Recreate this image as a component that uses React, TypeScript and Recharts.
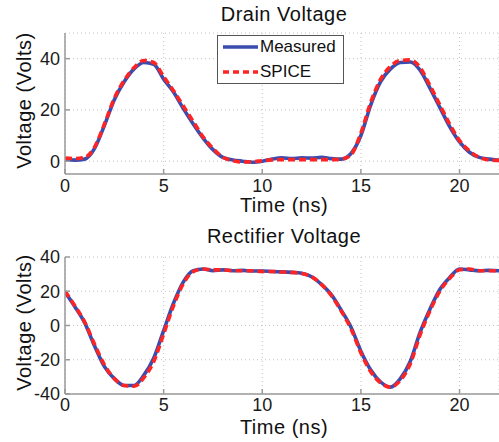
import React from 'react';
import { LineChart, Line, XAxis, YAxis, CartesianGrid, Legend, Customized } from 'recharts';

const timeNs = [0,0.5,1,1.5,2,2.5,3,3.5,4,4.5,5,5.5,6,6.5,7,7.5,8,8.5,9,9.5,10,10.5,11,11.5,12,12.5,13,13.5,14,14.5,15,15.5,16,16.5,17,17.5,18,18.5,19,19.5,20,20.5,21,21.5,22];

const drainMeasured = [0.8,0.4,0.8,5,14,24,31,36,38.5,37.8,32,27,20.5,14.5,9,4.5,1.5,0.5,0,-0.4,0,0.8,1.3,1.0,1.3,1.2,1.5,1.0,0.8,3,10,22,31,36,38.5,38.7,35.5,28.5,21,13.5,7.5,3.5,1.5,0.8,0.3];
const drainSpice = [1.2,1.0,1.5,5.5,14.5,24.5,31.5,36.5,39.3,38.5,33,27.5,21.5,15.5,9.5,5,1.5,0.2,-0.3,-0.2,0.2,0.5,0.6,0.6,0.6,0.6,0.6,0.6,0.8,2.5,11,23,32,37,39.3,39.5,36.5,29.5,22,14.5,8,4,1.5,0.5,0.3];

const rectMeasured = [19.5,11,1.5,-12,-24,-31,-35,-35,-29,-19,-3,13,25.5,32,33,32,32.5,32,32.2,31.8,31.8,31.5,31.3,31,30.5,28.5,24,18,9,-1,-15,-26,-33,-36,-31,-21,-4,9.5,21,28,33,32.5,32,32.2,32];
const rectSpice = [20,11.5,2,-11,-23,-31,-35,-35.5,-30.5,-21,-5,11.5,24.5,31.5,33,32.5,32.5,32,32,32,31.5,31.5,31.2,31,30.3,28.5,24,17.5,8.5,-2,-16,-27,-33.5,-36,-32,-22.5,-5.5,8.5,20,27.5,32.5,33,32,32,32];

const xTicks = [0, 5, 10, 15, 20];
const drainYTicks = [0, 20, 40];
const rectYTicks = [-40, -20, 0, 20, 40];
const seriesNames = ['Measured', 'SPICE'];
const titles = ['Drain Voltage', 'Rectifier Voltage'];
const xLabel = 'Time (ns)';
const yLabel = 'Voltage (Volts)';

const drainData = timeNs.map((t, i) => ({ t, measured: drainMeasured[i], spice: drainSpice[i] }));
const rectData = timeNs.map((t, i) => ({ t, measured: rectMeasured[i], spice: rectSpice[i] }));

const FONT = '"Liberation Sans", Arial, Helvetica, sans-serif';
const BLUE = '#3A4DAE';
const RED = '#FF2424';
const AXIS = '#9a9a9a';

const LegendBox = () => (
  <div style={{ width: 125, height: 47, border: '1px solid #555', background: '#fff', fontFamily: FONT, fontSize: 17, color: '#111', boxSizing: 'content-box' }}>
    {seriesNames.map((name, i) => (
      <div key={name} style={{ position: 'absolute', left: 6, top: i === 0 ? 2 : 27, height: 20, display: 'flex', alignItems: 'center' }}>
        <svg width={36} height={8} style={{ display: 'block' }}>
          <line x1={0} y1={4} x2={35} y2={4} stroke={i === 0 ? BLUE : RED} strokeWidth={3.5} strokeDasharray={i === 0 ? undefined : '6 4'} />
        </svg>
        <span style={{ marginLeft: 1, lineHeight: '20px' }}>{name}</span>
      </div>
    ))}
  </div>
);

function Panel({ data, yDomain, yTicks, title, top, height, plotTop, plotBottom, tickMarginX, legend }: any) {
  const xAxisHeight = height - plotBottom;
  const titleY = title === titles[0] ? 21 : 23;
  const xLabelY = height - 8;
  const yLabelCenter = (plotTop + plotBottom) / 2 - 3;
  return (
    <div style={{ position: 'absolute', left: 0, top, width: 499, height }}>
      <LineChart width={499} height={height} data={data} margin={{ top: plotTop, right: 0, bottom: 0, left: 0 }}>
        <CartesianGrid stroke="#c4c4c4" strokeDasharray="1 3" />
        <XAxis
          dataKey="t"
          type="number"
          domain={[0, 22]}
          ticks={xTicks}
          allowDataOverflow
          height={xAxisHeight}
          stroke={AXIS}
          strokeWidth={1.5}
          tickSize={-5}
          tickMargin={tickMarginX}
          tick={{ fontSize: 18, fill: '#1a1a1a', fontFamily: FONT }}
          interval={0}
        />
        <YAxis
          type="number"
          domain={yDomain}
          ticks={yTicks}
          allowDataOverflow
          width={65}
          stroke={AXIS}
          strokeWidth={1.5}
          tickSize={-5}
          tickMargin={10}
          tick={{ fontSize: 18, fill: '#1a1a1a', fontFamily: FONT }}
          interval={0}
        />
        <Line type="monotone" dataKey="measured" name={seriesNames[0]} stroke={BLUE} strokeWidth={3.6} dot={false} isAnimationActive={false} />
        <Line type="monotone" dataKey="spice" name={seriesNames[1]} stroke={RED} strokeWidth={3.6} strokeDasharray="7 4" dot={false} isAnimationActive={false} />
        {legend ? (
          <Legend layout="horizontal" verticalAlign="middle" align="center" content={() => <LegendBox />} wrapperStyle={{ position: 'absolute', left: 217, top: 35, width: 127, height: 49, margin: 0, padding: 0 }} />
        ) : null}
        <Customized
          component={() => (
            <g fontFamily={FONT} fill="#111" style={{ letterSpacing: '0.5px' }}>
              <text x={284} y={titleY} fontSize={20} textAnchor="middle">{title}</text>
              <text x={284} y={xLabelY} fontSize={20} textAnchor="middle">{xLabel}</text>
              <text transform={`translate(31, ${yLabelCenter}) rotate(-90)`} fontSize={20} textAnchor="middle">{yLabel}</text>
            </g>
          )}
        />
      </LineChart>
    </div>
  );
}

export default function App() {
  return (
    <div style={{ position: 'absolute', left: 0, top: 0, width: 499, height: 442, background: '#fff', overflow: 'hidden' }}>
      <Panel data={drainData} yDomain={[-5, 50]} yTicks={drainYTicks} title={titles[0]} top={0} height={220} plotTop={33} plotBottom={174} tickMarginX={10} legend />
      <Panel data={rectData} yDomain={[-40, 40]} yTicks={rectYTicks} title={titles[1]} top={220} height={222} plotTop={37} plotBottom={174} tickMarginX={9} />
    </div>
  );
}
